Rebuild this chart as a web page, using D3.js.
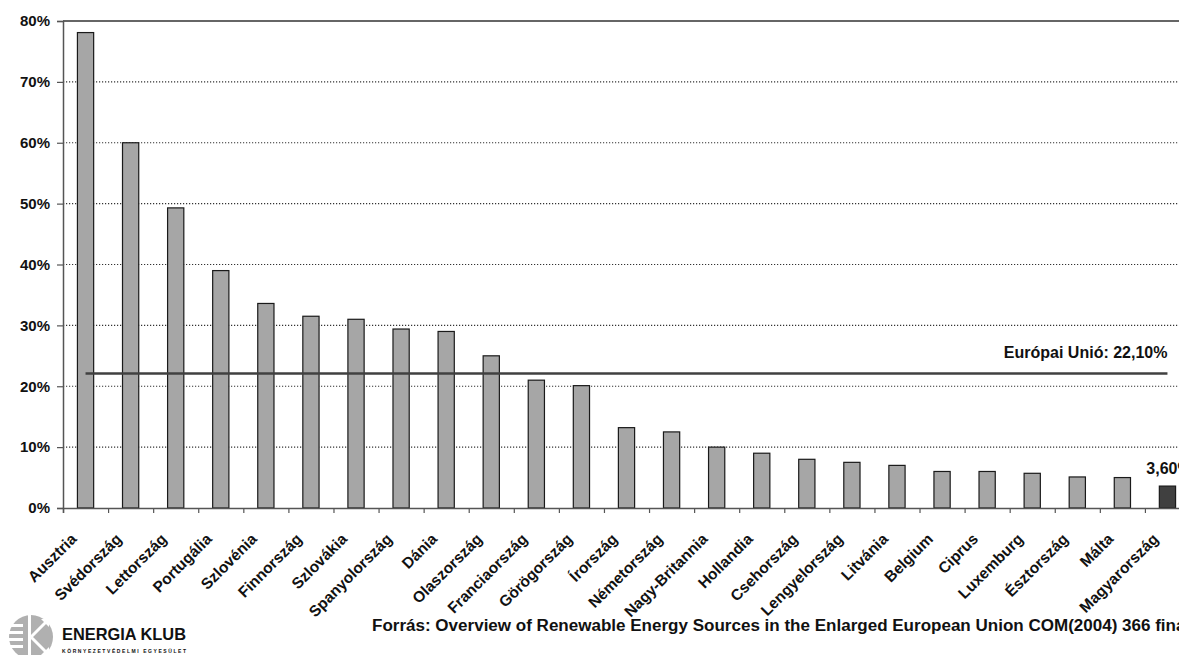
<!DOCTYPE html>
<html>
<head>
<meta charset="utf-8">
<script src="https://cdn.jsdelivr.net/npm/d3@7"></script>
<style>
  html, body { margin: 0; padding: 0; background: #fff; overflow: hidden; }
  svg { display: block; }
  text { font-family: "Liberation Sans", Arial, sans-serif; font-weight: bold; fill: #111; }
</style>
</head>
<body>
<svg id="chart" width="1179" height="655"></svg>
<script>
// Share of renewable electricity, 2010 targets by member state
const countries = ["Ausztria", "Svédország", "Lettország", "Portugália", "Szlovénia", "Finnország",
  "Szlovákia", "Spanyolország", "Dánia", "Olaszország", "Franciaország", "Görögország", "Írország",
  "Németország", "Nagy-Britannia", "Hollandia", "Csehország", "Lengyelország", "Litvánia", "Belgium",
  "Ciprus", "Luxemburg", "Észtország", "Málta", "Magyarország"];
const shares = [78.1, 60, 49.3, 39, 33.6, 31.5, 31, 29.4, 29, 25, 21, 20.1, 13.2, 12.5, 10, 9, 8, 7.5, 7,
  6, 6, 5.7, 5.1, 5, 3.6];
const highlighted = "Magyarország";
const euAverage = 22.1;
const yTicks = [0, 10, 20, 30, 40, 50, 60, 70, 80];
const sourceNote = "Forrás: Overview of Renewable Energy Sources in the Enlarged European Union COM(2004) 366 final";

const svg = d3.select("#chart");
const plot = { left: 63, right: 1190, top: 21, bottom: 508 };

const x = d3.scaleBand().domain(countries).range([plot.left, plot.right]).paddingInner(0.64).paddingOuter(0.32);
const xBound = d3.scaleLinear().domain([0, countries.length]).range([plot.left, plot.right]);
const y = d3.scaleLinear().domain([0, 80]).range([plot.bottom, plot.top]);

const pct = v => d3.format(".2f")(v).replace(".", ",") + "%";

// dotted horizontal gridlines
svg.append("g").selectAll("line")
  .data(yTicks.filter(t => t > 0 && t < 80))
  .join("line")
  .attr("x1", plot.left).attr("x2", plot.right)
  .attr("y1", d => y(d)).attr("y2", d => y(d))
  .attr("stroke", "#333").attr("stroke-width", 1.2)
  .attr("stroke-dasharray", "1.2,1.8");

// top frame line
svg.append("line")
  .attr("x1", plot.left).attr("x2", plot.right)
  .attr("y1", y(80)).attr("y2", y(80))
  .attr("stroke", "#333").attr("stroke-width", 1.5);

// bars
svg.append("g").selectAll("rect")
  .data(countries.map((c, i) => ({ c, v: shares[i] })))
  .join("rect")
  .attr("x", d => x(d.c))
  .attr("width", x.bandwidth())
  .attr("y", d => y(d.v))
  .attr("height", d => y(0) - y(d.v))
  .attr("fill", d => d.c === highlighted ? "#404040" : "#a6a6a6")
  .attr("stroke", "#1a1a1a").attr("stroke-width", 1.2);

// EU average reference line
const euX1 = x(countries[0]) + x.bandwidth() / 2;
const euX2 = x(countries[countries.length - 1]) + x.bandwidth() / 2;
svg.append("line")
  .attr("x1", euX1).attr("x2", euX2)
  .attr("y1", y(euAverage)).attr("y2", y(euAverage))
  .attr("stroke", "#404040").attr("stroke-width", 2.5);
svg.append("text")
  .attr("x", euX2).attr("y", y(euAverage) - 15)
  .attr("text-anchor", "end").attr("font-size", 16)
  .text("Európai Unió: " + pct(euAverage));

// value label on the highlighted bar
const hi = countries.indexOf(highlighted);
svg.append("text")
  .attr("x", x(highlighted) - 13)
  .attr("y", y(shares[hi]) - 12)
  .attr("text-anchor", "start").attr("font-size", 16)
  .text(pct(shares[hi]));

// y axis
const yAxis = svg.append("g").attr("transform", `translate(${plot.left},0)`)
  .call(d3.axisLeft(y).tickValues(yTicks).tickSize(6).tickPadding(7).tickFormat(d => d + "%"));
yAxis.select(".domain").attr("stroke", "#555").attr("stroke-width", 1.5);
yAxis.selectAll(".tick line").attr("stroke", "#555").attr("stroke-width", 1.2);
yAxis.selectAll(".tick text").attr("font-size", 15).attr("font-family", "Liberation Sans, Arial, sans-serif")
  .attr("font-weight", "bold").attr("fill", "#111");

// x axis with ticks between categories
const xAxis = svg.append("g").attr("transform", `translate(0,${plot.bottom})`)
  .call(d3.axisBottom(xBound).tickValues(d3.range(0, countries.length + 1)).tickSize(5).tickFormat(""));
xAxis.select(".domain").attr("stroke", "#555").attr("stroke-width", 1.5);
xAxis.selectAll(".tick line").attr("stroke", "#555").attr("stroke-width", 1.2);

// rotated category labels
svg.append("g").selectAll("text")
  .data(countries)
  .join("text")
  .attr("transform", d => `translate(${x(d) + x.bandwidth() / 2 - 8},${plot.bottom + 32}) rotate(-45)`)
  .attr("text-anchor", "end").attr("font-size", 15.5)
  .text(d => d);

// source note, stretched so that "...366 fin" reaches the right edge
const note = svg.append("text")
  .attr("x", 372).attr("y", 631)
  .attr("font-size", 16)
  .text(sourceNote);
const probe = svg.append("text").attr("font-size", 16).text(sourceNote.slice(0, sourceNote.length - 2));
const stretch = (1176 - 372) / probe.node().getComputedTextLength();
probe.remove();
note.attr("textLength", note.node().getComputedTextLength() * stretch).attr("lengthAdjust", "spacingAndGlyphs");

// organisation mark
const logo = svg.append("g").attr("transform", "translate(31,637)");
logo.append("circle").attr("r", 22).attr("fill", "#b0b0b0");
[-13, -6, 1, 8].forEach(dy => {
  logo.append("rect").attr("x", -24).attr("y", dy).attr("width", 16).attr("height", 3).attr("fill", "#fff");
});
logo.append("rect").attr("x", -3).attr("y", -24).attr("width", 3).attr("height", 48).attr("fill", "#fff");
logo.append("path").attr("d", "M0,0 L16,-16 M0,0 L16,16").attr("stroke", "#fff").attr("stroke-width", 3);
logo.append("path").attr("d", "M10,-18 L18,-18 L18,-10 Z M10,18 L18,18 L18,10 Z").attr("fill", "#fff");

svg.append("text")
  .attr("x", 62).attr("y", 640)
  .attr("font-family", "DejaVu Sans, sans-serif").attr("font-size", 16.5)
  .attr("textLength", 124).attr("lengthAdjust", "spacingAndGlyphs")
  .attr("fill", "#222")
  .text("ENERGIA KLUB");
svg.append("text")
  .attr("x", 62).attr("y", 653)
  .attr("font-family", "DejaVu Sans, sans-serif").attr("font-size", 5)
  .attr("textLength", 124).attr("lengthAdjust", "spacing")
  .attr("fill", "#666")
  .text("KÖRNYEZETVÉDELMI  EGYESÜLET");
</script>
</body>
</html>
